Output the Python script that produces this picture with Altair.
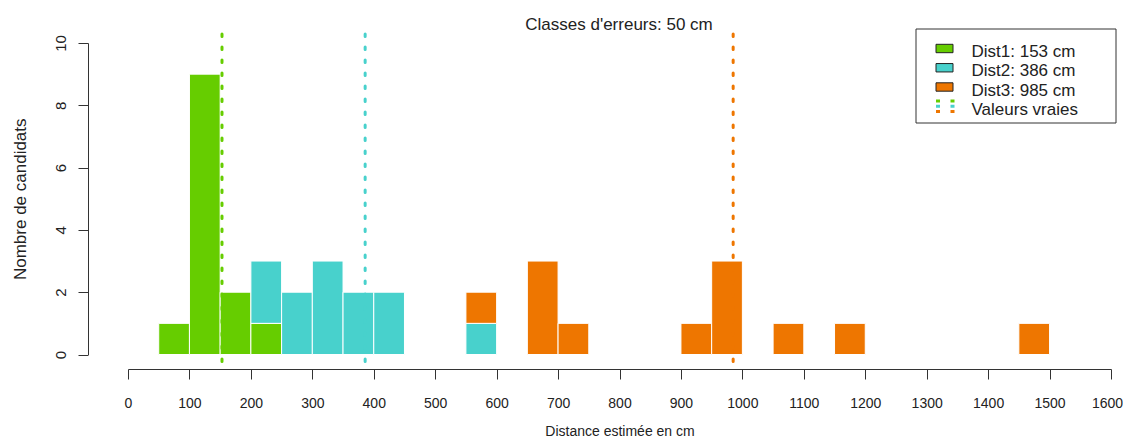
import altair as alt
import pandas as pd

# ---------------- data ----------------
series_names = ["Dist1", "Dist2", "Dist3"]
true_values = [153, 386, 985]
colors = ["#66CD00", "#48D1CC", "#EE7600"]
bin_width = 50

dist1_bins = [50, 100, 150, 200]
dist1_counts = [1, 9, 2, 1]
dist2_bins = [200, 250, 300, 350, 400, 550]
dist2_counts = [2, 2, 3, 2, 2, 1]
dist3_bins = [550, 650, 700, 900, 950, 1050, 1150, 1450]
dist3_counts = [1, 3, 1, 1, 3, 1, 1, 1]

x_ticks = list(range(0, 1700, 100))
y_ticks = [0, 2, 4, 6, 8, 10]
title_text = "Classes d'erreurs: 50 cm"
x_title = "Distance estimée en cm"
y_title = "Nombre de candidats"
legend_labels = [f"{n}: {v} cm" for n, v in zip(series_names, true_values)]
legend_true_label = "Valeurs vraies"

# ---------------- tables ----------------
rows = []
base = {}
for name, bins, counts in zip(series_names,
                              [dist1_bins, dist2_bins, dist3_bins],
                              [dist1_counts, dist2_counts, dist3_counts]):
    for b, c in zip(bins, counts):
        y0 = base.get(b, 0)
        rows.append({"series": name, "start": b, "end": b + bin_width,
                     "y0": y0, "y1": y0 + c})
        base[b] = y0 + c
bars_df = pd.DataFrame(rows)
true_df = pd.DataFrame({"series": series_names, "value": true_values})
one_df = pd.DataFrame({"t": [title_text]})

FONT = "Liberation Sans"
TXT = "#222222"

x_scale = alt.Scale(domain=[0, 1600], nice=False, zero=False)
x_axis = alt.Axis(values=x_ticks, format="d", offset=14.5, tickSize=10,
                  labelPadding=17, labelBaseline="top", labelFontSize=14,
                  labelOffset={"condition": {"test": f"datum.value == {x_ticks[-1]}", "value": -4}, "value": 0},
                  labelFlush=False, labelOverlap=False, labelColor=TXT,
                  domainColor="#333333", tickColor="#333333", grid=False,
                  title=x_title, titleFontSize=14, titleFontWeight="normal",
                  titleColor=TXT, titleBaseline="alphabetic", titleY=66)
y_scale = alt.Scale(domain=[0, 10], nice=False, zero=False)
y_axis = alt.Axis(values=y_ticks, format="d", offset=40, tickSize=10,
                  labelPadding=13, labelAngle=-90, labelAlign="center",
                  labelBaseline="alphabetic", labelFontSize=15,
                  labelFlush=False, labelOverlap=False, labelColor=TXT,
                  domainColor="#333333", tickColor="#333333", grid=False,
                  title=y_title, titleFontSize=17, titleFontWeight="normal",
                  titleColor=TXT, titleAngle=270, titleAlign="center",
                  titleBaseline="alphabetic", titleX=-63)
color_enc = alt.Color("series:N",
                      scale=alt.Scale(domain=series_names, range=colors),
                      legend=None)

bars = alt.Chart(bars_df).mark_bar(stroke="white", strokeWidth=1).encode(
    x=alt.X("start:Q", scale=x_scale, axis=x_axis),
    x2="end:Q",
    y=alt.Y("y1:Q", scale=y_scale, axis=y_axis),
    y2="y0:Q",
    color=color_enc,
)

true_lines = alt.Chart(true_df).mark_rule(
    strokeDash=[2.5, 10.5], strokeWidth=3, strokeCap="round"
).encode(
    x=alt.X("value:Q", scale=x_scale, axis=x_axis),
    y=alt.value(-9),
    y2=alt.value(326),
    color=color_enc,
)

title = alt.Chart(one_df).mark_text(
    fontSize=17, font=FONT, align="center", baseline="alphabetic", color=TXT
).encode(x=alt.value(491), y=alt.value(-13.5), text="t:N")

layers = [bars, true_lines, title]

# ---------------- legend ----------------
box = alt.Chart(one_df).mark_rect(
    fill="white", fillOpacity=0, stroke="#333333", strokeWidth=1
).encode(x=alt.value(788), x2=alt.value(988), y=alt.value(-14), y2=alt.value(80))
layers.append(box)

row_step = 19.25
row0 = 5.5
for i, (lab, col) in enumerate(zip(legend_labels, colors)):
    rc = row0 + row_step * i
    sq = alt.Chart(one_df).mark_rect(fill=col, stroke="#222222", strokeWidth=1).encode(
        x=alt.value(808), x2=alt.value(825), y=alt.value(rc - 4.2), y2=alt.value(rc + 4.2))
    tx = alt.Chart(pd.DataFrame({"t": [lab]})).mark_text(
        fontSize=17, font=FONT, align="left", baseline="alphabetic", color=TXT
    ).encode(x=alt.value(843.5), y=alt.value(rc + 8.7), text="t:N")
    layers += [sq, tx]

rc = row0 + row_step * 3
for j, col in enumerate(colors):
    ln = alt.Chart(one_df).mark_rule(strokeDash=[4, 10.5], strokeWidth=3, color=col).encode(
        x=alt.value(808), x2=alt.value(826.5), y=alt.value(rc - 5.3 + 5.3 * j))
    layers.append(ln)
tx = alt.Chart(pd.DataFrame({"t": [legend_true_label]})).mark_text(
    fontSize=17, font=FONT, align="left", baseline="alphabetic", color=TXT
).encode(x=alt.value(843.5), y=alt.value(rc + 8.7), text="t:N")
layers.append(tx)

chart = alt.layer(*layers).properties(
    width=983, height=311.5,
    padding={"left": 120, "top": 35, "right": 12, "bottom": 82.5},
    autosize=alt.AutoSizeParams(type="none"),
    background="white",
).configure(font=FONT).configure_view(stroke=None)

chart.save("out.html", embed_options={"renderer": "svg", "actions": False})
